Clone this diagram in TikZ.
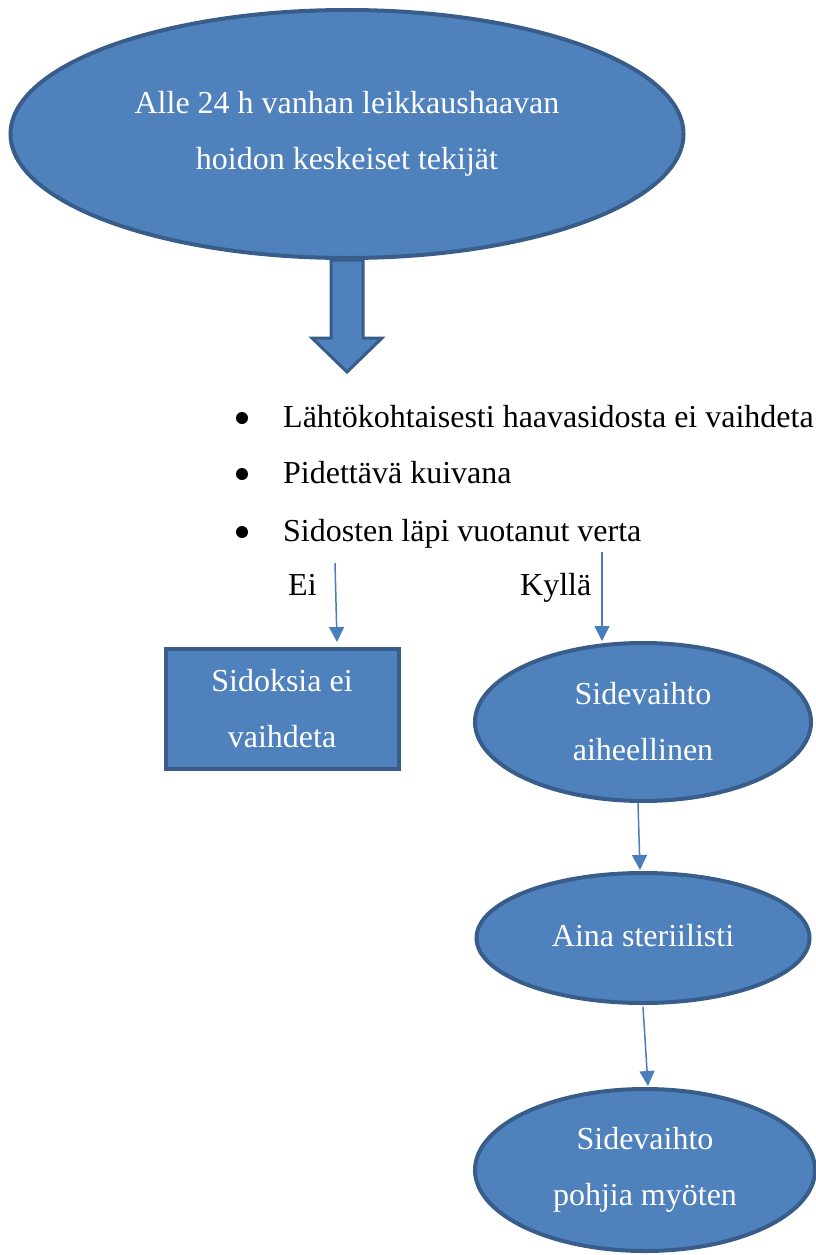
\documentclass[tikz,border=0pt]{standalone}
\usepackage{fontspec}
\setmainfont{Liberation Serif}
\usetikzlibrary{shapes.geometric,arrows.meta}
\definecolor{boxblue}{HTML}{4F81BD}
\definecolor{boxedge}{HTML}{385D8A}
\definecolor{arrowblue}{HTML}{4A7EBB}
\tikzset{
	blob/.style={ellipse, draw=boxedge, fill=boxblue, line width=4, text=white, align=center, inner sep=0pt},
	plate/.style={rectangle, draw=boxedge, fill=boxblue, line width=4, text=white, align=center, inner sep=0pt},
	link/.style={draw=arrowblue, line width=1.5, -{Triangle[length=15, width=15]}},
	fatarrow/.style={draw=boxedge, fill=boxblue, line width=3, line join=miter}
}
\begin{document}
\begin{tikzpicture}[x=1pt, y=-1pt, font=\fontsize{32}{56}\selectfont]
			\useasboundingbox (0, 0) rectangle (816, 1255);
			\node[blob, minimum width=673, minimum height=248] (care) at (347, 134) {Alle 24 h vanhan leikkaushaavan\\hoidon keskeiset tekijät};
			\draw[fatarrow, shift={(care.south)}] (-16, 0) -- (16, 0) -- (16, 78) -- (35, 78) -- (0, 112) -- (-35, 78) -- (-16, 78) -- cycle;
			\foreach \y/\txt [count=\i] in {427/Lähtökohtaisesti haavasidosta ei vaihdeta, 483/Pidettävä kuivana, 541/Sidosten läpi vuotanut verta} {
				\node[anchor=base west, inner sep=0pt] (item\i) at (283, \y) {\txt};
				\fill (242, \y-9) circle (6);
			}
			\node[anchor=base west, inner sep=0pt] (no) at (288, 595) {Ei};
			\node[anchor=base west, inner sep=0pt] (yes) at (520, 595) {Kyllä};
			\node[plate, minimum width=233, minimum height=120] (keep) at (282, 709) {Sidoksia ei\\vaihdeta};
			\node[blob, minimum width=336, minimum height=158] (change) at (643, 722) {Sidevaihto\\aiheellinen};
			\node[blob, minimum width=333, minimum height=130] (sterile) at (643, 938) {\raisebox{6pt}{Aina steriilisti}};
			\node[blob, minimum width=340, minimum height=162] (bottom) at (645, 1170) {Sidevaihto\\pohjia myöten};
			\coordinate (noTop) at (335, 563);
			\coordinate (yesTop) at (602, 552);
			\draw[link] (noTop) -- ([xshift=55pt, yshift=5pt]keep.north);
			\draw[link] (yesTop) -- ([xshift=-41pt]change.north);
			\draw[link] ([xshift=-5pt]change.south) -- ([xshift=-3pt, yshift=1pt]sterile.north);
			\draw[link] ([yshift=-2pt]sterile.south) -- ([xshift=3pt, yshift=1pt]bottom.north);
\end{tikzpicture}
\end{document}
